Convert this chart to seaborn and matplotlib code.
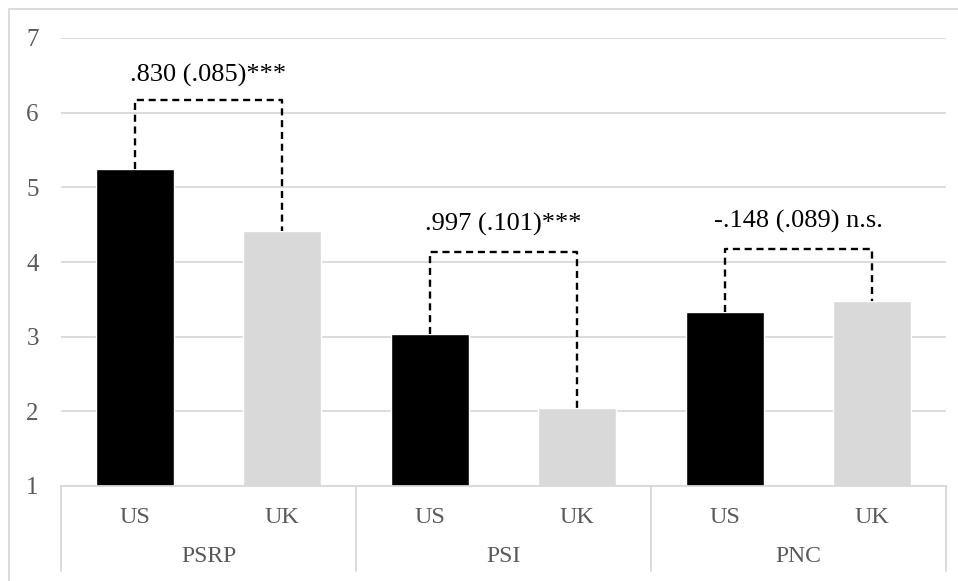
import matplotlib
matplotlib.use("Agg")
import matplotlib.pyplot as plt
import matplotlib.transforms as mtransforms
from matplotlib.patches import Rectangle
import seaborn as sns
import pandas as pd

# Scale means by country for each construct
constructs = ["PSRP", "PSI", "PNC"]
countries = ["US", "UK"]
us_means = [5.25, 3.04, 3.33]
uk_means = [4.42, 2.04, 3.48]

# Country difference labels (estimate, SE, significance)
diff_labels = [".830 (.085)***", ".997 (.101)***", "-.148 (.089) n.s."]
bracket_tops = [6.17, 4.14, 4.17]
label_heights = [6.5, 4.5, 4.54]

y_ticks = [1, 2, 3, 4, 5, 6, 7]

rows = []
for c, us, uk in zip(constructs, us_means, uk_means):
    rows.append({"slot": f"{c}-US", "construct": c, "country": "US", "mean": us})
    rows.append({"slot": f"{c}-UK", "construct": c, "country": "UK", "mean": uk})
df = pd.DataFrame(rows)

sns.set_theme(style="white")
plt.rcParams["font.family"] = ["Liberation Serif", "DejaVu Serif"]

fig = plt.figure(figsize=(9.58, 5.81), dpi=100)
ax = fig.add_axes([61 / 958, 1 - 486 / 581, (946 - 61) / 958, (486 - 38) / 581])

sns.barplot(
    data=df, x="slot", y="mean", hue="country",
    palette={"US": "#000000", "UK": "#d9d9d9"},
    dodge=False, width=0.53, legend=False, ax=ax, zorder=3,
    saturation=1,
)

ax.set_ylim(1, 7)
ax.set_xlim(-0.5, len(df) - 0.5)
ax.set_yticks(y_ticks)
ax.set_yticklabels([str(t) for t in y_ticks], color="#595959", fontsize=18)
ax.tick_params(axis="y", length=0, pad=16)
ax.set_xticks([])
ax.set_xlabel("")
ax.set_ylabel("")
ax.yaxis.grid(True, color="#d9d9d9", linewidth=1.3, zorder=0)
ax.set_axisbelow(True)
for side in ["top", "right", "left"]:
    ax.spines[side].set_visible(False)
ax.spines["bottom"].set_color("#d9d9d9")
ax.spines["bottom"].set_linewidth(1.3)
ax.spines["bottom"].set_zorder(4)

# Two-level category axis: country labels, construct labels and separators
blend = mtransforms.blended_transform_factory(ax.transData, ax.transAxes)
for i, row in df.iterrows():
    ax.annotate(row["country"], xy=(i, 0), xycoords=blend,
                xytext=(0, -22.5), textcoords="offset points",
                ha="center", va="center", fontsize=17.5, color="#595959")
for g, c in enumerate(constructs):
    ax.annotate(c, xy=(2 * g + 0.5, 0), xycoords=blend,
                xytext=(0, -51), textcoords="offset points",
                ha="center", va="center", fontsize=17, color="#595959")
for b in range(len(constructs) + 1):
    ax.plot([2 * b - 0.5, 2 * b - 0.5], [0, -85 / 448], transform=blend,
            color="#d9d9d9", linewidth=1.3, clip_on=False)

# Dashed brackets linking the two bars with the difference estimate
for g, (us, uk, top, lab, ly) in enumerate(zip(us_means, uk_means, bracket_tops,
                                                diff_labels, label_heights)):
    xl, xr = 2 * g, 2 * g + 1
    ax.plot([xl, xl, xr, xr], [us, top, top, uk], color="black",
            linewidth=1.7, linestyle=(0, (3, 2)), zorder=5)
    ax.text((xl + xr) / 2, ly, lab, ha="center", va="center",
            fontsize=19, color="black", zorder=5)

# Chart area border
fig.patches.append(Rectangle((9 / 958, -0.1), 1.2, 1 - 9 / 581 + 0.1,
                             transform=fig.transFigure, fill=False,
                             edgecolor="#d9d9d9", linewidth=1.3))

fig.savefig("out.png", dpi=100, facecolor="white")
